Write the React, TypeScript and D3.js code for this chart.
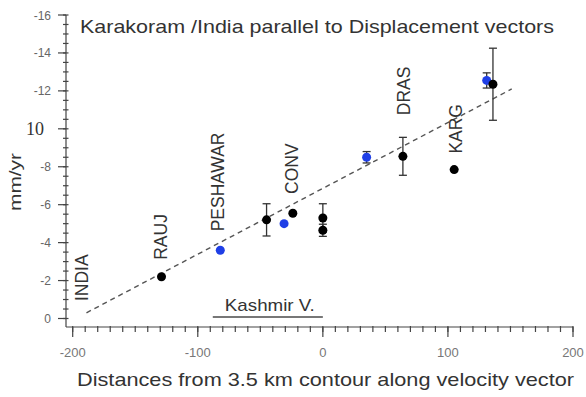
import * as d3 from "d3";
import React from "react";

// black GPS sites
const distance = [-129, -45, -24, 0, 0, 64, 105, 136];
const rate = [-2.2, -5.2, -5.55, -5.3, -4.65, -8.55, -7.85, -12.35];
const rateErr = [0, 0.85, 0, 0.75, 0.32, 1.0, 0, 1.9];

// blue sites
const blueDistance = [-82, -31, 35, 131];
const blueRate = [-3.6, -5.0, -8.5, -12.55];
const blueErr = [0, 0, 0.3, 0.4];

// dashed fit
const fitX = [-189, 151];
const fitY = [-0.3, -12.1];

const stationNames = ["INDIA", "RAUJ", "PESHAWAR", "CONV", "DRAS", "KARG"];
const stationLabelX = [-188, -125, -79, -20, 70, 111];
const stationLabelY = [-2.15, -4.3, -7.2, -7.9, -12.0, -10.0];

const kashmirRange = [-88, 0];

const xTicks = [-200, -100, 0, 100, 200];
const xTickLabels = ["-200", "-100", "0", "100", "200"];
const yTicks = [0, -2, -4, -6, -8, -10, -12, -14, -16];
const yTickLabels = ["0", "-2", "-4", "-6", "-8", "10", "-12", "-14", "-16"];

const W = 586;
const H = 397;

export default function App() {
    const x = d3.scaleLinear().domain([-200, 200]).range([72.7, 573]);
    const y = d3.scaleLinear().domain([0, -16]).range([318.5, 15]);

    const axisX = 66;
    const axisY = 327;
    const axisColor = "#444";

    const xMinor = d3.range(-200, 201, 10);
    const yMinor = d3.range(0, -16.01, -0.5);

    const line = d3.line<number>()
        .x((d, i) => x(fitX[i]))
        .y((d, i) => y(fitY[i]));

    const errBar = (cx: number, cy: number, e: number, key: string) => {
        if (!e) return null;
        const t = y(cy + e), b = y(cy - e), px = x(cx);
        return <g key={key} stroke="#333" strokeWidth={1.3}>
            <line x1={px} x2={px} y1={t} y2={b} />
            <line x1={px - 4} x2={px + 4} y1={t} y2={t} />
            <line x1={px - 4} x2={px + 4} y1={b} y2={b} />
        </g>;
    };

    return <svg width={W} height={H} style={{ position: "absolute", left: 0, top: 0, background: "#fff" }}
        fontFamily="'Liberation Sans', Arial, sans-serif">
        <rect width={W} height={H} fill="#fff" />

        {/* title */}
        <text x={80} y={33} fontSize={19} fill="#333" textLength={474} lengthAdjust="spacingAndGlyphs">
            Karakoram /India parallel to Displacement vectors</text>

        {/* y axis */}
        <g stroke={axisColor} strokeWidth={1.2}>
            <line x1={axisX} x2={axisX} y1={y(-16)} y2={axisY} />
            {yMinor.map(v => <line key={"ym" + v} x1={axisX - 3} x2={axisX + 2.5} y1={y(v)} y2={y(v)} />)}
            {yTicks.map(v => <line key={"yt" + v} x1={axisX - 8} x2={axisX} y1={y(v)} y2={y(v)} />)}
        </g>
        {yTicks.map((v, i) => v === -10
            ? <text key={"yl" + v} x={44} y={y(v) + 6} fontSize={18} fontFamily="'Liberation Serif', 'Times New Roman', serif"
                fill="#333" textAnchor="end">{yTickLabels[i]}</text>
            : <text key={"yl" + v} x={51} y={y(v) + 4.5} fontSize={12} fill="#666" textAnchor="end">{yTickLabels[i]}</text>)}
        <text transform={`translate(21,182) rotate(-90)`} fontSize={16} fill="#333" textAnchor="middle"
            textLength={58} lengthAdjust="spacingAndGlyphs">mm/yr</text>

        {/* x axis */}
        <g stroke={axisColor} strokeWidth={1.2}>
            <line x1={axisX} x2={x(200)} y1={axisY} y2={axisY} />
            {xMinor.map(v => <line key={"xm" + v} x1={x(v)} x2={x(v)} y1={axisY - 1} y2={axisY + 5} />)}
            {xTicks.map(v => <line key={"xt" + v} x1={x(v)} x2={x(v)} y1={axisY} y2={axisY + 10} />)}
        </g>
        {xTicks.map((v, i) => <text key={"xl" + v} x={x(v)} y={357} fontSize={13} fill="#777"
            textAnchor="middle">{xTickLabels[i]}</text>)}
        <text x={77} y={386} fontSize={19} fill="#333" textLength={497} lengthAdjust="spacingAndGlyphs">
            Distances from 3.5 km contour along velocity vector</text>

        {/* Kashmir valley */}
        <line x1={x(kashmirRange[0])} x2={x(kashmirRange[1])} y1={y(0) - 1.5} y2={y(0) - 1.5}
            stroke="#777" strokeWidth={2} />
        <text x={x((kashmirRange[0] + kashmirRange[1]) / 2) + 2} y={y(0) - 8} fontSize={17} fill="#333"
            textAnchor="middle" textLength={90} lengthAdjust="spacingAndGlyphs">Kashmir V.</text>

        {/* fit line */}
        <path d={line(fitX) || ""} fill="none" stroke="#555" strokeWidth={1.4} strokeDasharray="5,4" />

        {/* station labels */}
        {stationNames.map((s, i) => <text key={s}
            transform={`translate(${x(stationLabelX[i])},${y(stationLabelY[i])}) rotate(-90)`}
            fontSize={17.5} fill="#333" textAnchor="middle">{s}</text>)}

        {/* error bars */}
        {distance.map((d, i) => errBar(d, rate[i], rateErr[i], "e" + i))}
        {blueDistance.map((d, i) => errBar(d, blueRate[i], blueErr[i], "be" + i))}

        {/* points */}
        {blueDistance.map((d, i) => <circle key={"b" + i} cx={x(d)} cy={y(blueRate[i])} r={4.5} fill="#1f3fe6" />)}
        {distance.map((d, i) => <circle key={"k" + i} cx={x(d)} cy={y(rate[i])} r={4.5} fill="#000" />)}
    </svg>;
}
